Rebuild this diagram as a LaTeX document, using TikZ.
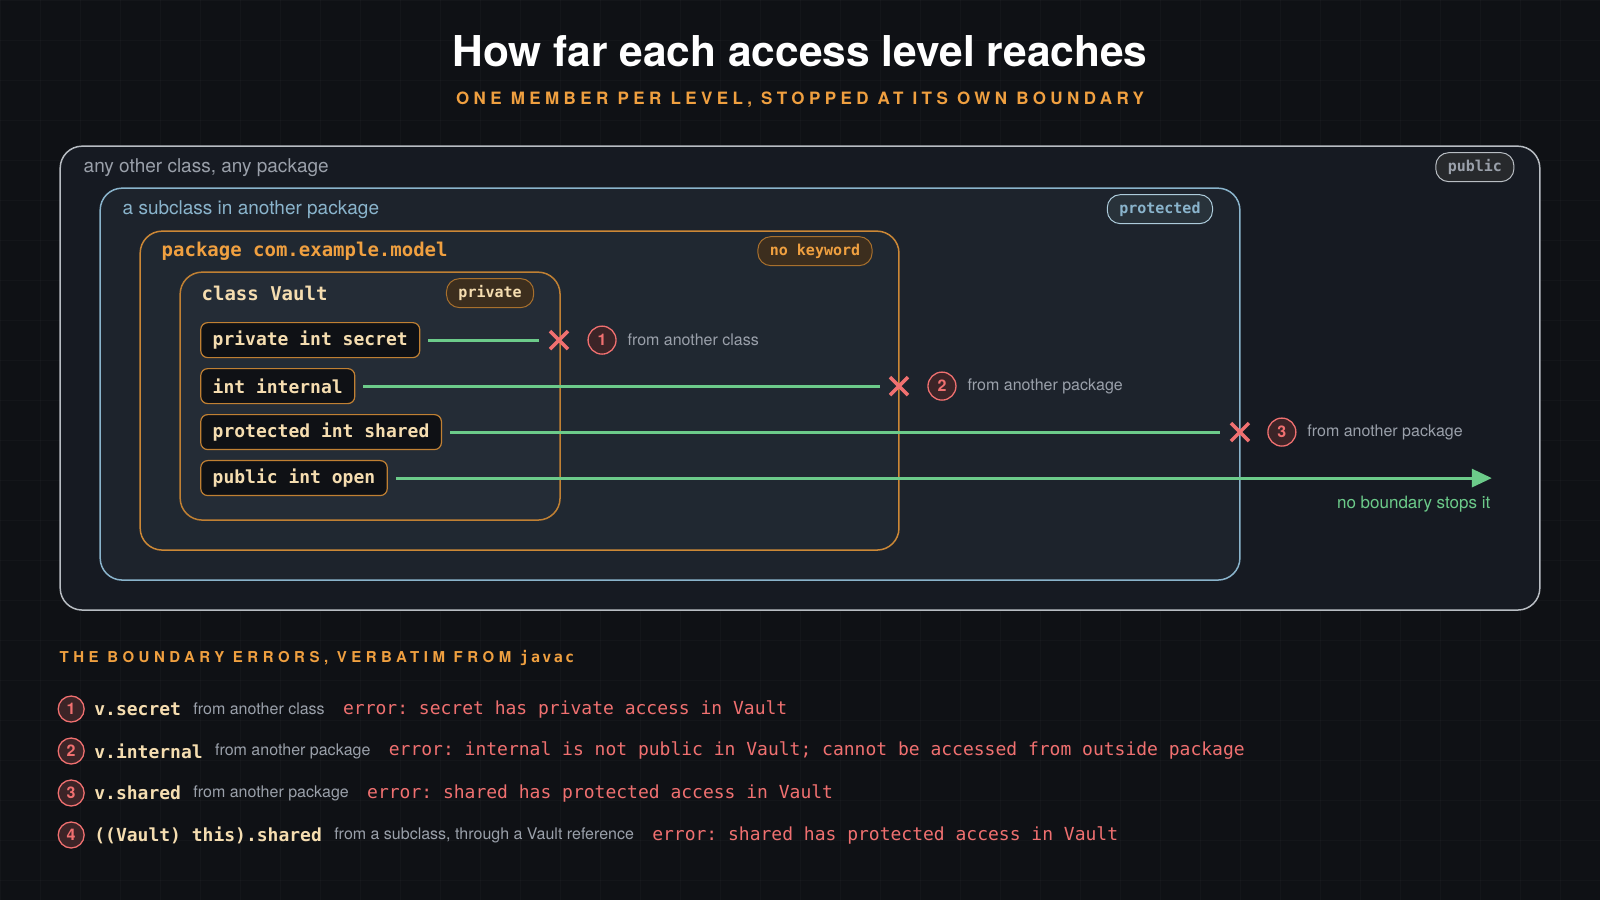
\documentclass[tikz,border=0pt]{standalone}
\usepackage{fontspec}
\setmainfont{TeX Gyre Heros}
\newfontfamily\mono{DejaVu Sans Mono}
\usetikzlibrary{arrows.meta,positioning}
\definecolor{bg}{HTML}{0F1115}
\definecolor{orng}{HTML}{F0A040}
\definecolor{grn}{HTML}{6CCB8A}
\definecolor{rd}{HTML}{F07070}
\definecolor{blu}{HTML}{8AB4CC}
\definecolor{gry}{HTML}{9AA0AA}
\definecolor{crm}{HTML}{F5DDB0}
\definecolor{panel}{HTML}{161A22}
\tikzset{
  box/.style={rounded corners=22pt,line width=1.5pt},
  pill/.style={draw,rounded corners=13pt,line width=1pt,inner xsep=12pt,minimum height=29pt,font=\mono\bfseries\fontsize{15}{15}\selectfont},
  member/.style={draw=orng!80!black,fill=bg,rounded corners=7pt,line width=1.2pt,anchor=west,inner xsep=12pt,minimum height=35pt,text=crm,font=\mono\bfseries\fontsize{18}{18}\selectfont},
  reach/.style={grn,line width=3pt},
  cross/.style={rd,line width=3.5pt},
  num/.style={circle,draw=rd,line width=1.3pt,fill=rd!20!bg,text=rd,minimum size=28pt,inner sep=0pt,font=\bfseries\fontsize{16}{16}\selectfont},
  note/.style={anchor=west,text=gry,font=\fontsize{16}{16}\selectfont},
  code/.style={anchor=west,text=crm,font=\mono\bfseries\fontsize{18}{18}\selectfont,inner xsep=2pt},
  small/.style={anchor=west,text=gry,font=\fontsize{16}{16}\selectfont,inner xsep=10pt},
  err/.style={anchor=west,text=rd,font=\mono\fontsize{18}{18}\selectfont,inner xsep=8pt},
}
\newcommand{\xmark}[2]{\draw[cross] (#1-9,#2-9) -- (#1+9,#2+9) (#1-9,#2+9) -- (#1+9,#2-9);}
\begin{document}
\frenchspacing
\begin{tikzpicture}[x=1pt,y=-1pt,text=white]
\fill[bg] (0,0) rectangle (1600,900);
\foreach \i in {0,40,...,1600} \draw[white,opacity=0.025] (\i,0) -- (\i,900);
\foreach \i in {0,40,...,900} \draw[white,opacity=0.025] (0,\i) -- (1600,\i);
\useasboundingbox (0,0) rectangle (1600,900);
\node[text=white] (title) at (800,51) {\fontsize{42.5}{42}\selectfont\bfseries How far each access level reaches};
\node[text=orng] (sub) at (800,100) {\fontsize{17}{17}\selectfont\bfseries\addfontfeature{LetterSpace=26}ONE MEMBER PER LEVEL, STOPPED AT ITS OWN BOUNDARY};
% boxes
\draw[box,draw=gry!70,fill=panel] (60,146) rectangle (1540,610);
\node[anchor=west,text=gry,font=\fontsize{19}{19}\selectfont] (lpub) at (80,167) {any other class, any package};
\node[pill,draw=gry!70,fill=white!10!bg,text=gry] (ppub) at (1475,167) {public};
\draw[box,draw=blu,fill=blu!6!panel] (100,188) rectangle (1240,580);
\node[anchor=west,text=blu,font=\fontsize{19}{19}\selectfont] (lprot) at (119,209) {a subclass in another package};
\node[pill,draw=blu!70,fill=blu!20!bg,text=blu] (pprot) at (1160,209) {protected};
\draw[box,draw=orng!85!black,fill=blu!9!panel] (140,231) rectangle (899,550);
\node[anchor=west,text=orng,font=\mono\bfseries\fontsize{19}{19}\selectfont] (lpkg) at (158,251) {package com.example.model};
\node[pill,draw=orng!70!black,fill=orng!20!bg,text=orng] (ppkg) at (815,251) {no keyword};
\draw[box,draw=orng!80!black,fill=blu!12!panel] (180,272) rectangle (560,520);
\node[anchor=west,text=crm,font=\mono\bfseries\fontsize{19}{19}\selectfont] (lcls) at (198,293) {class Vault};
\node[pill,draw=orng!70!black,fill=orng!20!bg,text=crm] (pcls) at (490,293) {private};
% members
\node[member] (m1) at (200,340) {private int secret};
\node[member] (m2) at (200,386) {int internal};
\node[member] (m3) at (200,432) {protected int shared};
\node[member] (m4) at (200,478) {public int open};
\coordinate (e1) at (539,340);
\coordinate (e2) at (880,386);
\coordinate (e3) at (1220,432);
\coordinate (e4) at (1492,478);
\draw[reach] (m1.east) ++(8,0) -- (e1);
\draw[reach] (m2.east) ++(8,0) -- (e2);
\draw[reach] (m3.east) ++(8,0) -- (e3);
\draw[reach,-{Triangle[length=20pt,width=18pt]}] (m4.east) ++(8,0) -- (e4);
\xmark{559}{340}
\xmark{899}{386}
\xmark{1240}{432}
\node[num] (c1) at (602,340) {1};
\node[note] (t1) at (624,340) {from another class};
\node[num] (c2) at (942,386) {2};
\node[note] (t2) at (964,386) {from another package};
\node[num] (c3) at (1282,432) {3};
\node[note] (t3) at (1304,432) {from another package};
\node[anchor=east,text=grn,font=\fontsize{17}{17}\selectfont] (nb) at (1494,504) {no boundary stops it};
% bottom
\node[anchor=west,text=orng,font=\bfseries\fontsize{15}{15}\selectfont] (hd) at (56,658) {\addfontfeature{LetterSpace=30}THE BOUNDARY ERRORS, VERBATIM FROM {\mono\addfontfeature{LetterSpace=15}javac}};
\foreach \n/\y/\c/\s/\e in {
 1/709/v.secret/from another class/error: secret has private access in Vault,
 2/751/v.internal/from another package/error: internal is not public in Vault; cannot be accessed from outside package,
 3/793/v.shared/from another package/error: shared has protected access in Vault,
 4/835/((Vault) this).shared/{from a subclass, through a Vault reference}/error: shared has protected access in Vault}{
 \node[num,minimum size=26pt] (b\n) at (71,\y) {\n};
 \node[code] (k\n) at (92,\y) {\c};
 \node[small] (s\n) at (k\n.east) {\s};
 \node[err] (r\n) at (s\n.east) {\e};
}
\end{tikzpicture}
\end{document}
